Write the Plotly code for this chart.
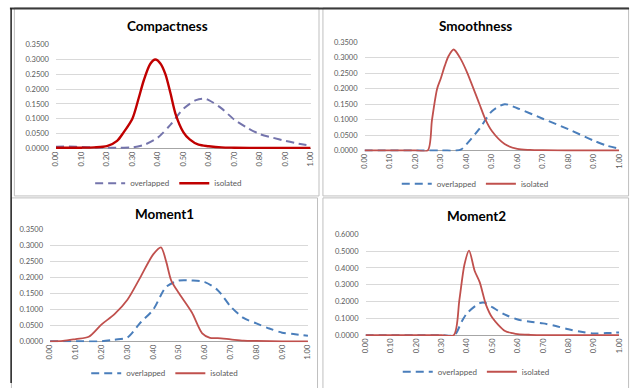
import plotly.graph_objects as go

# ---------------- data ----------------
titles = ["Compactness", "Smoothness", "Moment1", "Moment2"]
series_names = ["overlapped", "isolated"]

x_tick_vals = [0.0, 0.1, 0.2, 0.3, 0.4, 0.5, 0.6, 0.7, 0.8, 0.9, 1.0]
x_tick_text = ["0.00", "0.10", "0.20", "0.30", "0.40", "0.50", "0.60", "0.70", "0.80", "0.90", "1.00"]

# Compactness
comp_ov_x = [0, 0.05, 0.10, 0.15, 0.20, 0.25, 0.30, 0.35, 0.40, 0.45, 0.50, 0.55, 0.58, 0.60, 0.65, 0.70, 0.75, 0.80, 0.85, 0.90, 0.95, 1.00]
comp_ov_y = [0.005, 0.006, 0.004, 0.003, 0.002, 0.002, 0.003, 0.013, 0.036, 0.080, 0.133, 0.163, 0.168, 0.163, 0.135, 0.097, 0.070, 0.048, 0.036, 0.025, 0.016, 0.009]
comp_is_x = [0, 0.10, 0.15, 0.20, 0.24, 0.265, 0.30, 0.325, 0.345, 0.37, 0.39, 0.41, 0.43, 0.45, 0.47, 0.50, 0.525, 0.56, 0.60, 0.65, 0.70, 0.80, 1.00]
comp_is_y = [0.002, 0.002, 0.003, 0.007, 0.025, 0.053, 0.100, 0.170, 0.230, 0.285, 0.300, 0.287, 0.250, 0.185, 0.115, 0.055, 0.030, 0.012, 0.007, 0.003, 0.002, 0.001, 0.001]

# Smoothness
smo_ov_x = [0, 0.10, 0.20, 0.30, 0.36, 0.38, 0.40, 0.45, 0.50, 0.55, 0.60, 0.70, 0.80, 0.90, 0.95, 1.00]
smo_ov_y = [0, 0, 0, 0, 0, 0.004, 0.020, 0.069, 0.127, 0.150, 0.137, 0.103, 0.069, 0.032, 0.016, 0.006]
smo_is_x = [0, 0.10, 0.20, 0.248, 0.265, 0.285, 0.30, 0.315, 0.33, 0.35, 0.375, 0.40, 0.45, 0.475, 0.50, 0.55, 0.60, 0.65, 0.70, 0.80, 1.00]
smo_is_y = [0, 0, 0, 0, 0.100, 0.200, 0.235, 0.274, 0.306, 0.327, 0.300, 0.258, 0.153, 0.100, 0.063, 0.021, 0.005, 0.002, 0.001, 0, 0]

# Moment1
m1_ov_x = [0, 0.10, 0.20, 0.25, 0.30, 0.35, 0.40, 0.45, 0.50, 0.55, 0.60, 0.65, 0.70, 0.75, 0.80, 0.85, 0.90, 0.95, 1.00]
m1_ov_y = [0, 0, 0, 0.005, 0.012, 0.058, 0.099, 0.170, 0.190, 0.190, 0.185, 0.160, 0.109, 0.073, 0.056, 0.040, 0.027, 0.022, 0.017]
m1_is_x = [0, 0.05, 0.10, 0.15, 0.20, 0.25, 0.30, 0.35, 0.40, 0.43, 0.45, 0.47, 0.50, 0.55, 0.59, 0.62, 0.65, 0.70, 0.75, 0.80, 0.90, 1.00]
m1_is_y = [0, 0.001, 0.007, 0.014, 0.053, 0.085, 0.130, 0.200, 0.272, 0.294, 0.250, 0.190, 0.150, 0.090, 0.025, 0.011, 0.010, 0.006, 0.002, 0.001, 0, 0]

# Moment2
m2_ov_x = [0, 0.10, 0.20, 0.30, 0.35, 0.38, 0.40, 0.45, 0.47, 0.50, 0.55, 0.60, 0.65, 0.70, 0.75, 0.80, 0.85, 0.90, 0.95, 1.00]
m2_ov_y = [0, 0, 0, 0, 0, 0.083, 0.130, 0.190, 0.193, 0.166, 0.122, 0.093, 0.079, 0.070, 0.054, 0.035, 0.020, 0.010, 0.012, 0.016]
m2_is_x = [0, 0.10, 0.20, 0.30, 0.348, 0.37, 0.39, 0.408, 0.43, 0.45, 0.475, 0.50, 0.55, 0.58, 0.60, 0.65, 0.70, 0.80, 1.00]
m2_is_y = [0, 0, 0, 0, 0, 0.210, 0.420, 0.503, 0.383, 0.315, 0.180, 0.103, 0.025, 0.012, 0.006, 0.002, 0, 0, 0]

y_max = [0.35, 0.35, 0.35, 0.60]
y_dtick = [0.05, 0.05, 0.05, 0.10]

panel_data = [
    (comp_ov_x, comp_ov_y, comp_is_x, comp_is_y),
    (smo_ov_x, smo_ov_y, smo_is_x, smo_is_y),
    (m1_ov_x, m1_ov_y, m1_is_x, m1_is_y),
    (m2_ov_x, m2_ov_y, m2_is_x, m2_is_y),
]

# ---------------- layout / style ----------------
W, H = 637, 388
# plot-area pixel boxes: x0, x1, y(top value), y(zero)
boxes = [
    (51.7, 310.0, 41.7, 147.7),
    (364.7, 623.0, 39.3, 150.0),
    (45.7, 307.3, 230.7, 345.3),
    (365.7, 623.0, 235.7, 339.0),
]
title_pos = [(165, 23), (477, 23), (162, 215), (478, 217)]
legend_pos = [(166, 183.5), (477, 184), (162, 378), (478, 376.5)]

ov_colors = ["#7474ac", "#4a7ebb", "#4a7ebb", "#4a7ebb"]
is_colors = ["#c00000", "#c0504d", "#c0504d", "#c0504d"]
is_widths = [2.4, 1.8, 1.8, 1.8]

TICK_FONT = dict(family="Lato, Liberation Sans, sans-serif", size=7.5, color="#595959")

fig = go.Figure()
layout = dict(
    width=W, height=H,
    margin=dict(l=0, r=0, t=0, b=0),
    paper_bgcolor="white", plot_bgcolor="white",
    showlegend=True,
    annotations=[], shapes=[],
)

for i in range(4):
    ox, oy, ix, iy = panel_data[i]
    sfx = "" if i == 0 else str(i + 1)
    leg = "legend" if i == 0 else "legend" + str(i + 1)
    fig.add_trace(go.Scatter(
        x=ox, y=oy, name=series_names[0], mode="lines",
        line=dict(color=ov_colors[i], width=2, dash="8px,5px", shape="spline", smoothing=0.8),
        xaxis="x" + sfx, yaxis="y" + sfx, legend=leg, hoverinfo="skip"))
    fig.add_trace(go.Scatter(
        x=ix, y=iy, name=series_names[1], mode="lines",
        line=dict(color=is_colors[i], width=is_widths[i], shape="spline", smoothing=0.8),
        xaxis="x" + sfx, yaxis="y" + sfx, legend=leg, hoverinfo="skip"))

    x0, x1, yt, yz = boxes[i]
    ymax = y_max[i]
    scale = (yz - yt) / ymax
    ymin = -0.008 * ymax
    bottom_pix = yz + (-ymin) * scale
    layout["xaxis" + sfx] = dict(
        domain=[x0 / W, x1 / W], range=[0, 1], anchor="y" + sfx,
        tickvals=x_tick_vals, ticktext=x_tick_text, tickangle=-90,
        tickfont=TICK_FONT, showgrid=False, zeroline=False, showline=False,
        ticks="", ticklen=0,
    )
    layout["yaxis" + sfx] = dict(
        domain=[1 - bottom_pix / H, 1 - yt / H], range=[ymin, ymax + 1e-4],
        anchor="x" + sfx, tick0=0, dtick=y_dtick[i], tickformat=".4f",
        tickfont=TICK_FONT, showgrid=True, gridcolor="#d9d9d9", gridwidth=1,
        zeroline=True, zerolinecolor="#a6a6a6", zerolinewidth=1, showline=False,
        ticks="", ticklabelstandoff=6,
    )
    lx, ly = legend_pos[i]
    layout[leg] = dict(
        orientation="h", x=lx / W, xanchor="center", y=1 - ly / H, yanchor="middle",
        font=dict(family="Lato, Liberation Sans, sans-serif", size=8, color="#595959"),
        bgcolor="rgba(0,0,0,0)", itemwidth=30, tracegroupgap=0,
    )
    tx, ty = title_pos[i]
    layout["annotations"].append(dict(
        text="<b>" + titles[i] + "</b>", x=tx / W, y=1 - ty / H, xref="paper", yref="paper",
        showarrow=False, xanchor="center", yanchor="middle",
        font=dict(family="Lato, Liberation Sans, sans-serif", size=13.5, color="#000000"),
    ))

# panel frames
def rect(px0, py0, px1, py1, color="#bfbfbf", width=1):
    return dict(type="rect", xref="paper", yref="paper",
                x0=px0 / W, x1=px1 / W, y0=1 - py1 / H, y1=1 - py0 / H,
                line=dict(color=color, width=width), fillcolor="rgba(0,0,0,0)", layer="below")

layout["shapes"] += [
    rect(9.5, 4, 318.5, 196.5),
    rect(322.5, 4, 632.5, 196.5),
    rect(6.5, 198.5, 317, 395),
    rect(322.5, 198.5, 632.5, 395),
    dict(type="line", xref="paper", yref="paper", x0=5 / W, x1=633 / W, y0=1 - 4.5 / H, y1=1 - 4.5 / H,
         line=dict(color="#3a3a3a", width=2)),
    dict(type="line", xref="paper", yref="paper", x0=6.2 / W, x1=6.2 / W, y0=0, y1=1 - 4 / H,
         line=dict(color="#202020", width=1.5)),
]

fig.update_layout(**layout)
fig.write_html(
    "out.html",
    config={"displayModeBar": False, "staticPlot": True},
    post_script="document.body.style.margin='0px';document.body.style.overflow='hidden';",
)
